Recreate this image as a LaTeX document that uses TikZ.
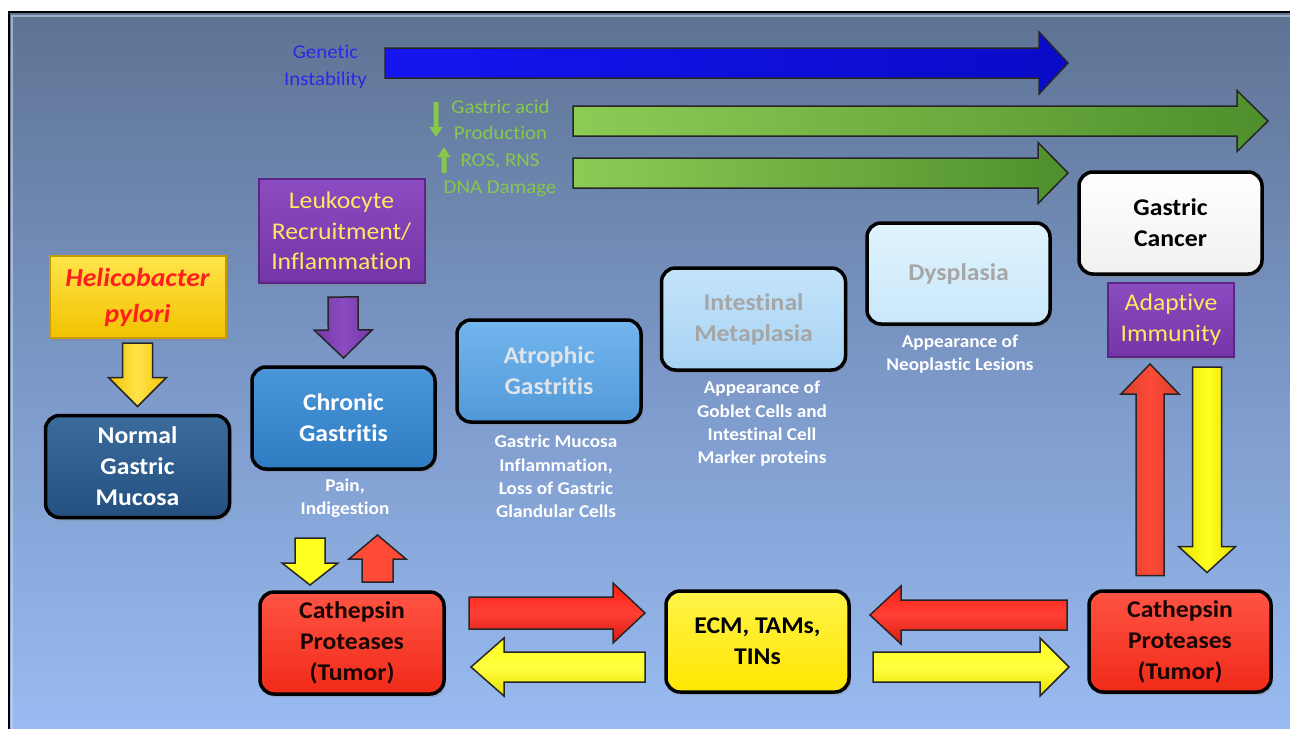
\documentclass[tikz,border=0pt]{standalone}
\usepackage{fontspec}
\setmainfont{Carlito}[Ligatures=NoCommon, FakeStretch=1.07]
\usetikzlibrary{calc,shadows}
\definecolor{bgT}{HTML}{5E7393}
\definecolor{bgM}{HTML}{7B98C8}
\definecolor{bgB}{HTML}{9ABCF2}
\definecolor{hpT}{HTML}{FFE44A}
\definecolor{hpB}{HTML}{F2C200}
\definecolor{hpD}{HTML}{C99A00}
\definecolor{hpText}{HTML}{FF1F1F}
\definecolor{leukT}{HTML}{8A4CC0}
\definecolor{leukB}{HTML}{7435A8}
\definecolor{leukD}{HTML}{5A2585}
\definecolor{ytext}{HTML}{FFE960}
\definecolor{ngmT}{HTML}{3B6C9C}
\definecolor{ngmB}{HTML}{245080}
\definecolor{cgT}{HTML}{4A96DA}
\definecolor{cgB}{HTML}{2F7CC2}
\definecolor{agT}{HTML}{74B6EE}
\definecolor{agB}{HTML}{5099D8}
\definecolor{agText}{HTML}{DFE4EA}
\definecolor{imT}{HTML}{C4E4FA}
\definecolor{imB}{HTML}{A8D3F4}
\definecolor{grayText}{HTML}{A6A6A6}
\definecolor{dysT}{HTML}{E0F3FD}
\definecolor{dysB}{HTML}{C9E8FA}
\definecolor{gcB}{HTML}{F0F0F0}
\definecolor{redT}{HTML}{FF5444}
\definecolor{redB}{HTML}{F02A18}
\definecolor{redText}{HTML}{1A0505}
\definecolor{ecmT}{HTML}{FFF34A}
\definecolor{ecmB}{HTML}{FFE600}
\definecolor{arRed}{HTML}{FF1E12}
\definecolor{arRed2}{HTML}{FF4A38}
\definecolor{arYel}{HTML}{FFFF1E}
\definecolor{arYelD}{HTML}{E8E000}
\definecolor{arBlue}{HTML}{1515F0}
\definecolor{arBlueD}{HTML}{0A0AC8}
\definecolor{grL}{HTML}{8CCC55}
\definecolor{grR}{HTML}{4F8F2C}
\definecolor{grText}{HTML}{86C74C}
\definecolor{blueText}{HTML}{2A2AE6}

\newcommand\blockarrow[6]{%
  \path coordinate (ba-n) at ($(#3)!#6!(#2)$);
  \draw[barrow,#1] ($(#2)!#4!90:(#3)$) -- ($(ba-n)!#4!-90:(#2)$) -- ($(ba-n)!#5!-90:(#2)$) -- (#3) -- ($(ba-n)!#5!90:(#2)$) -- ($(ba-n)!#4!90:(#2)$) -- ($(#2)!#4!-90:(#3)$) -- cycle;
}

\tikzset{
  rbox/.style={draw=black, line width=3.5pt, rounded corners=14pt, minimum width=183pt, minimum height=101pt, outer sep=0pt, align=center, inner sep=2pt, font=\fontsize{24}{31}\selectfont\bfseries, drop shadow={opacity=0.35, shadow xshift=2pt, shadow yshift=-3pt}},
  sbox/.style={line width=2pt, align=center, inner sep=2pt, outer sep=0pt, drop shadow={opacity=0.3, shadow xshift=2pt, shadow yshift=-3pt}},
  note/.style={text=white, align=center, font=\fontsize{18}{23.3}\selectfont\bfseries},
  barrow/.style={draw=black!85, line width=1.5pt, line join=miter},
  glabel/.style={text=grText, align=center, font=\fontsize{19.5}{26.5}\selectfont},
}

\begin{document}
\begin{tikzpicture}[x=1pt,y=-1pt]
\useasboundingbox (0,0) rectangle (1290,728);
\fill[white] (0,0) rectangle (1290,728);
\draw[line width=2.5pt, top color=bgT, bottom color=bgB, middle color=bgM] (9,12) rectangle (1296,736);
\draw[white!70!bgT, line width=2pt, opacity=0.6] (12,730) -- (12,16) -- (1292,16);

% nodes
\node[sbox, draw=hpD, top color=hpT, bottom color=hpB, minimum width=176pt, minimum height=82pt, text=hpText, font=\fontsize{26}{36}\selectfont\bfseries\itshape] (hp) at (137.5,297) {Helicobacter\\pylori};
\node[rbox, top color=ngmT, bottom color=ngmB, text=white, minimum width=184pt, minimum height=102pt] (ngm) at (137.5,466.5) {Normal\\Gastric\\Mucosa};
\node[sbox, draw=leukD, top color=leukT, bottom color=leukB, minimum width=166pt, minimum height=104pt, text=ytext, font=\fontsize{24}{30.5}\selectfont] (leuk) at (341.5,231) {Leukocyte\\Recruitment/\\Inflammation};
\node[rbox, top color=cgT, bottom color=cgB, text=white, minimum height=102pt] (cg) at (343.5,418) {Chronic\\Gastritis};
\node[rbox, top color=agT, bottom color=agB, text=agText, minimum width=184pt, minimum height=102pt] (ag) at (549,371) {Atrophic\\Gastritis};
\node[rbox, top color=imT, bottom color=imB, text=grayText, minimum width=184pt, minimum height=102pt] (im) at (753.5,319) {Intestinal\\Metaplasia};
\node[rbox, top color=dysT, bottom color=dysB, text=grayText] (dys) at (958.5,273.5) {Dysplasia};
\node[rbox, top color=white, bottom color=gcB, text=black, minimum height=102pt] (gc) at (1170.5,223) {Gastric\\Cancer};
\node[sbox, draw=leukD, top color=leukT, bottom color=leukB, minimum width=126pt, minimum height=74pt, text=ytext, font=\fontsize{24}{31}\selectfont] (ai) at (1171,320) {Adaptive\\Immunity};
\node[rbox, top color=redT, bottom color=redB, text=redText, minimum width=184pt, minimum height=102pt] (cpL) at (352,643) {Cathepsin\\Proteases\\(Tumor)};
\node[rbox, top color=ecmT, bottom color=ecmB, text=black] (ecm) at (757.5,641.5) {ECM, TAMs,\\TINs};
\node[rbox, top color=redT, bottom color=redB, text=redText, minimum width=182pt] (cpR) at (1180,641.5) {Cathepsin\\Proteases\\(Tumor)};

% notes
\node[note] (pain) at (345,498.5) {Pain,\\Indigestion};
\node[note] (agtxt) at (556,476.5) {Gastric Mucosa\\Inflammation,\\Loss of Gastric\\Glandular Cells};
\node[note] (imtxt) at (762,424) {Appearance of\\Goblet Cells and\\Intestinal Cell\\Marker proteins};
\node[note] (dystxt) at (960,354.5) {Appearance of\\Neoplastic Lesions};

% top labels
\node[text=blueText, align=center, font=\fontsize{19.5}{27}\selectfont] (gen) at (325.5,67) {Genetic\\Instability};
\node[glabel] (ga) at (500.5,120) {Gastric acid\\Production};
\node[glabel] (ros) at (500,175.5) {ROS, RNS\\DNA Damage};

% top arrows
\coordinate (bS) at (385,63); \coordinate (bE) at (1068,63);
\coordinate (g1S) at (573,121); \coordinate (g1E) at (1268,121);
\coordinate (g2S) at (573,173); \coordinate (g2E) at (1068,173);
\blockarrow{left color=arBlue, right color=arBlueD}{bS}{bE}{15pt}{31pt}{29pt}
\blockarrow{left color=grL, right color=grR}{g1S}{g1E}{15pt}{30.5pt}{31pt}
\blockarrow{left color=grL, right color=grR}{g2S}{g2E}{15pt}{30.5pt}{30pt}

\coordinate (sgdS) at (436,102); \coordinate (sgdE) at (436,137);
\coordinate (sguS) at (444,173); \coordinate (sguE) at (444,147);
\blockarrow{draw=none, fill=grText}{sgdS}{sgdE}{2.5pt}{6.5pt}{10pt}
\blockarrow{draw=none, fill=grText}{sguS}{sguE}{2.5pt}{6.5pt}{10pt}

% block arrows between nodes
\coordinate (a1s) at ($(hp.south)+(0,5)$);
\coordinate (a1e) at ($(ngm.north)+(0,-9)$);
\blockarrow{left color=hpB, right color=hpB, middle color=hpT}{a1s}{a1e}{15pt}{29pt}{29pt}

\coordinate (a2s) at ($(leuk.south)+(1.5,14)$);
\coordinate (a2e) at ($(cg.north)+(0,-9)$);
\blockarrow{left color=leukB, right color=leukB, middle color=leukT}{a2s}{a2e}{15pt}{29pt}{28pt}

\coordinate (a3s) at ($(cg.south)+(-33.5,69)$);
\coordinate (a3e) at ($(cpL.north)+(-42,-7)$);
\blockarrow{fill=arYel}{a3s}{a3e}{15pt}{28pt}{22pt}

\coordinate (a4s) at ($(cpL.north)+(25.5,-10)$);
\coordinate (a4e) at ($(cg.south)+(34,66)$);
\blockarrow{fill=arRed2}{a4s}{a4e}{15.5pt}{28.5pt}{24pt}

\coordinate (a5s) at ($(cpL.east)+(25,-30)$);
\coordinate (a5e) at ($(ecm.west)+(-21,-28.5)$);
\blockarrow{top color=arRed, bottom color=arRed!85!black, middle color=arRed!85!white}{a5s}{a5e}{16pt}{30pt}{32pt}

\coordinate (a6s) at ($(ecm.west)+(-21,25.5)$);
\coordinate (a6e) at ($(cpL.east)+(27,24)$);
\blockarrow{top color=arYel, bottom color=arYelD, middle color=arYel!85!white}{a6s}{a6e}{15pt}{29pt}{33pt}

\coordinate (a7s) at ($(cpR.west)+(-22,-26.5)$);
\coordinate (a7e) at ($(ecm.east)+(21,-26.5)$);
\blockarrow{top color=arRed, bottom color=arRed!85!black, middle color=arRed!85!white}{a7s}{a7e}{15pt}{29pt}{31pt}

\coordinate (a8s) at ($(ecm.east)+(24,25.5)$);
\coordinate (a8e) at ($(cpR.west)+(-20,25.5)$);
\blockarrow{top color=arYel, bottom color=arYelD, middle color=arYel!85!white}{a8s}{a8e}{15pt}{29pt}{29pt}

\coordinate (a9s) at ($(cpR.north)+(-30,-15.5)$);
\coordinate (a9e) at ($(ai.south)+(-21,7)$);
\blockarrow{left color=arRed2!85!black, right color=arRed2!85!black, middle color=arRed2}{a9s}{a9e}{14pt}{29pt}{30pt}

\coordinate (a10s) at ($(ai.south)+(36,10)$);
\coordinate (a10e) at ($(cpR.north)+(27,-18.5)$);
\blockarrow{left color=arYelD, right color=arYelD, middle color=arYel}{a10s}{a10e}{14.5pt}{28.5pt}{26pt}
\end{tikzpicture}
\end{document}
